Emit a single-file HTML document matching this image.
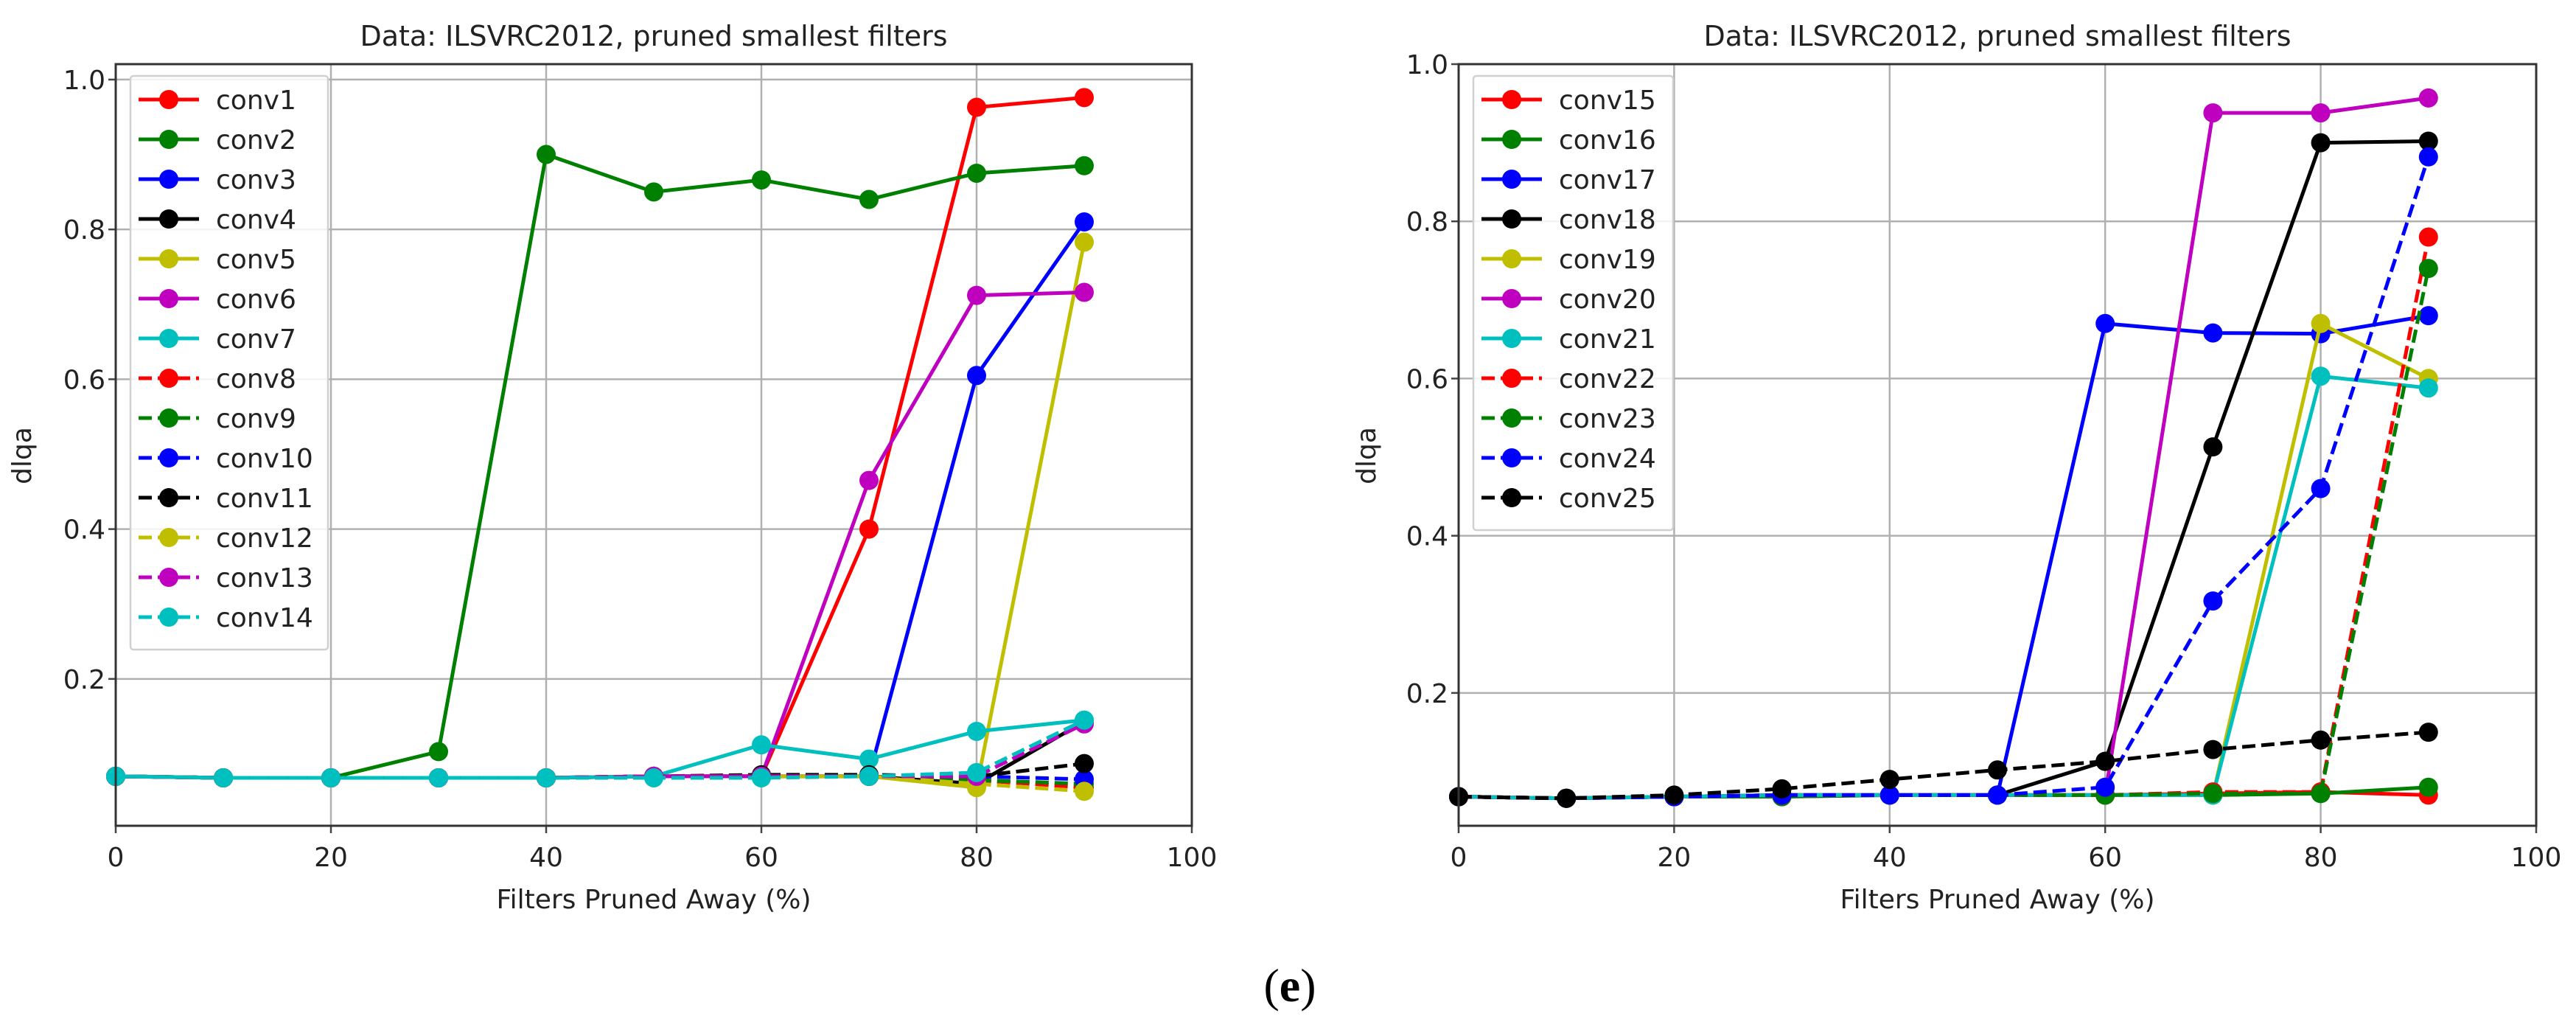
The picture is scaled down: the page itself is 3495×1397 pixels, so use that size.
<!DOCTYPE html>
<html><head><meta charset="utf-8"><style>
html,body{margin:0;padding:0;background:#fff;}
svg{display:block;font-family:"DejaVu Sans","Liberation Sans",sans-serif;}
</style></head><body>
<svg id="svg" width="3495" height="1397" viewBox="0 0 3495 1397" xmlns="http://www.w3.org/2000/svg">
<text x="1750" y="1358" font-family="Liberation Serif, serif" font-size="64" text-anchor="middle">(<tspan font-weight="bold">e</tspan>)</text>
</svg>
<script>
const xValues = [0,10,20,30,40,50,60,70,80,90];
const xTicks = [0,20,40,60,80,100];
const yTicks = [0.2,0.4,0.6,0.8,1.0];
const leftNames = ["conv1","conv2","conv3","conv4","conv5","conv6","conv7","conv8","conv9","conv10","conv11","conv12","conv13","conv14"];
const leftSeries = [
[0.07,0.068,0.068,0.068,0.068,0.07,0.07,0.40,0.963,0.976],
[0.07,0.068,0.068,0.103,0.90,0.85,0.866,0.84,0.875,0.885],
[0.07,0.068,0.068,0.068,0.068,0.07,0.07,0.07,0.605,0.81],
[0.07,0.068,0.068,0.068,0.068,0.07,0.07,0.07,0.06,0.143],
[0.07,0.068,0.068,0.068,0.068,0.07,0.07,0.07,0.055,0.783],
[0.07,0.068,0.068,0.068,0.068,0.07,0.07,0.465,0.712,0.716],
[0.07,0.068,0.068,0.068,0.068,0.07,0.112,0.093,0.13,0.145],
[0.07,0.068,0.068,0.068,0.068,0.07,0.07,0.07,0.065,0.055],
[0.07,0.068,0.068,0.068,0.068,0.07,0.07,0.07,0.065,0.06],
[0.07,0.068,0.068,0.068,0.068,0.07,0.07,0.07,0.07,0.066],
[0.07,0.068,0.068,0.068,0.068,0.07,0.072,0.072,0.07,0.087],
[0.07,0.068,0.068,0.068,0.068,0.07,0.07,0.07,0.06,0.05],
[0.07,0.068,0.068,0.068,0.068,0.07,0.07,0.07,0.07,0.14],
[0.07,0.068,0.068,0.068,0.068,0.068,0.068,0.07,0.075,0.145]
];
const rightNames = ["conv15","conv16","conv17","conv18","conv19","conv20","conv21","conv22","conv23","conv24","conv25"];
const rightSeries = [
[0.068,0.066,0.068,0.068,0.07,0.07,0.07,0.072,0.074,0.07],
[0.068,0.066,0.068,0.068,0.07,0.07,0.07,0.07,0.072,0.08],
[0.068,0.066,0.068,0.07,0.07,0.07,0.67,0.658,0.657,0.68],
[0.068,0.066,0.068,0.07,0.07,0.07,0.113,0.513,0.90,0.902],
[0.068,0.066,0.068,0.07,0.07,0.07,0.07,0.07,0.67,0.60],
[0.068,0.066,0.068,0.07,0.07,0.07,0.07,0.938,0.938,0.957],
[0.068,0.066,0.068,0.07,0.07,0.07,0.07,0.07,0.603,0.588],
[0.068,0.066,0.068,0.07,0.07,0.07,0.07,0.074,0.074,0.78],
[0.068,0.066,0.068,0.07,0.07,0.07,0.07,0.072,0.072,0.74],
[0.068,0.066,0.068,0.07,0.07,0.07,0.08,0.317,0.46,0.882],
[0.068,0.066,0.07,0.078,0.09,0.102,0.113,0.128,0.14,0.15]
];
const colors = ["#ff0000","#008000","#0000ff","#000000","#bfbf00","#bf00bf","#00bfbf"];
const NS="http://www.w3.org/2000/svg";
const svg=document.getElementById('svg');
function mk(tag,attrs,parent){const e=document.createElementNS(NS,tag);for(const k in attrs)e.setAttribute(k,attrs[k]);(parent||svg).appendChild(e);return e;}
function panel(id,L,R,T,B,ymin,ymax,names,series,legX,ylabX){
  const g=mk('g',{});
  
  
  const sx=v=>L+(v-0)/(100-0)*(R-L);
  const sy=v=>B-(v-ymin)/(ymax-ymin)*(B-T);
  // grid
  xTicks.forEach(t=>{
    const l=mk('line',{x1:sx(t),x2:sx(t),y1:T,y2:B,stroke:'#b0b0b0','stroke-width':2.5},g);
    
    
    mk('line',{x1:sx(t),x2:sx(t),y1:B,y2:B+10,stroke:'#444','stroke-width':2.5},g);
    const tx=mk('text',{x:sx(t),y:B+55,'font-size':36,'text-anchor':'middle',fill:'#222'},g);
    tx.textContent=t;
    
    
  });
  yTicks.forEach(t=>{
    const l=mk('line',{x1:L,x2:R,y1:sy(t),y2:sy(t),stroke:'#b0b0b0','stroke-width':2.5},g);
    
    
    mk('line',{x1:L-10,x2:L,y1:sy(t),y2:sy(t),stroke:'#444','stroke-width':2.5},g);
    const tx=mk('text',{x:L-14,y:sy(t)+13,'font-size':36,'text-anchor':'end',fill:'#222'},g);
    tx.textContent=t.toFixed(1);
    
    
  });
  // series
  series.forEach((s,i)=>{
    const c=colors[i%7], dashed=i>=7;
    const sg=mk('g',{},g);
    
    
    const pts=s.map((v,j)=>sx(xValues[j])+','+sy(v)).join(' ');
    mk('polyline',{points:pts,fill:'none',stroke:c,'stroke-width':5,'stroke-dasharray':dashed?'18 8':'none'},sg);
    s.forEach((v,j)=>{
      const p=mk('circle',{cx:sx(xValues[j]),cy:sy(v),r:13,fill:c},sg);
      
      
    });
  });
  // frame
  const f=mk('rect',{x:L,y:T,width:R-L,height:B-T,fill:'none',stroke:'#333','stroke-width':3},g);
  
  
  // legend
  const lg=mk('g',{},g);
  
  
  const n=names.length;
  mk('rect',{x:legX,y:103,width:(n>11?268:271),height:n*54+22,fill:'#fff','fill-opacity':0.85,stroke:'#d0d0d0','stroke-width':2.5,rx:4},lg);
  names.forEach((nm,i)=>{
    const y=135+i*54, c=colors[i%7], dashed=i>=7;
    const e=mk('g',{},lg);
    
    
    mk('line',{x1:legX+11,x2:legX+93,y1:y,y2:y,stroke:c,'stroke-width':5,'stroke-dasharray':dashed?'18 8':'none'},e);
    mk('circle',{cx:legX+52,cy:y,r:13,fill:c},e);
    const t=mk('text',{x:legX+116,y:y+13,'font-size':36,fill:'#222'},e);
    t.textContent=nm;
  });
  const ti=mk('text',{x:(L+R)/2,y:62,'font-size':38,'text-anchor':'middle',fill:'#222'},g);
  ti.textContent='Data: ILSVRC2012, pruned smallest filters';
  
  
  const xl=mk('text',{x:(L+R)/2,y:1232,'font-size':36,'text-anchor':'middle',fill:'#222'},g);
  xl.textContent='Filters Pruned Away (%)';
  
  
  const yl=mk('text',{x:ylabX,y:618,'font-size':36,'text-anchor':'middle',fill:'#222',transform:`rotate(-90 ${ylabX} 618)`},g);
  yl.textContent='dlqa';
  
  
}
panel('left',157,1617,87,1120,0.004,1.0206,leftNames,leftSeries,177,42);
panel('right',1979,3441,87,1120,0.031,1.0,rightNames,rightSeries,1999,1866);
</script>
</body></html>
